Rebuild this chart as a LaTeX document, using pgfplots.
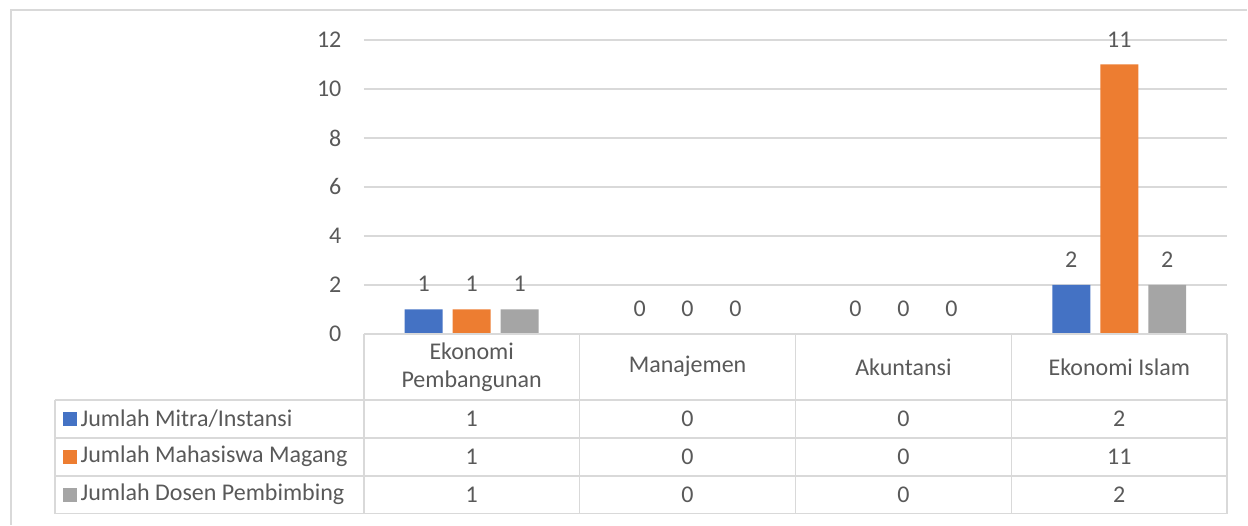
\documentclass[border=0pt]{standalone}
\usepackage{fontspec}
\setmainfont{Carlito}
\usepackage{pgfplots}
\pgfplotsset{compat=1.18}

\definecolor{cblue}{HTML}{4472C4}
\definecolor{corange}{HTML}{ED7D31}
\definecolor{cgray}{HTML}{A5A5A5}
\definecolor{txt}{HTML}{595959}
\definecolor{gridc}{HTML}{D9D9D9}

\begin{document}
\fontsize{12}{14.4}\selectfont
\begin{tikzpicture}
% canvas 1248 x 525 px at 0.5pt per px
\path (0,0) rectangle (624pt,-262.5pt);
\begin{axis}[
  at={(182pt,-167pt)}, anchor=south west,
  scale only axis, width=432pt, height=147pt,
  ybar=5pt, bar width=19pt,
  xmin=-0.5, xmax=3.5, ymin=0, ymax=12,
  xtick=\empty,
  ytick={0,2,...,12},
  ymajorgrids, grid style={gridc, line width=0.8pt},
  axis line style={draw=none},
  major tick length=0pt,
  tick label style={font=\fontsize{12}{14.4}\selectfont, text=txt},
  yticklabel style={xshift=-7pt},
  /pgf/number format/assume math mode=true,
  nodes near coords,
  nodes near coords style={font=\fontsize{12}{14.4}\selectfont, text=txt, anchor=south, inner sep=0pt, yshift=8.5pt},
  clip=false,
]
\addplot[fill=cblue, draw=none] coordinates {(0,1) (1,0) (2,0) (3,2)};
\addplot[fill=corange, draw=none] coordinates {(0,1) (1,0) (2,0) (3,11)};
\addplot[fill=cgray, draw=none] coordinates {(0,1) (1,0) (2,0) (3,2)};
\end{axis}
\begin{scope}[x=0.5pt, y=-0.5pt, line width=0.8pt]
  % chart frame (partly cropped)
  \draw[gridc] (11,525) -- (11,10) -- (1248,10);
  % data table
  \draw[gridc] (364,334) -- (1228,334);
  \foreach \yy in {400,438,476,514} \draw[gridc] (55,\yy) -- (1228,\yy);
  \draw[gridc] (55,400) -- (55,514);
  \foreach \xx in {364,580,796,1012,1228} \draw[gridc] (\xx,334) -- (\xx,514);
  % header
  \node[text=txt, align=center, font=\fontsize{12}{14}\selectfont] at (472,367) {Ekonomi\\Pembangunan};
  \node[text=txt] at (688,367) {Manajemen};
  \node[text=txt] at (904,367) {Akuntansi};
  \node[text=txt] at (1120,367) {Ekonomi Islam};
  % row labels
  \fill[cblue] (63,412) rectangle (77,426);
  \fill[corange] (63,450) rectangle (77,464);
  \fill[cgray] (63,488) rectangle (77,502);
  \node[text=txt, anchor=west, inner sep=0pt] at (80,419) {Jumlah Mitra/Instansi};
  \node[text=txt, anchor=west, inner sep=0pt] at (80,457) {Jumlah Mahasiswa Magang};
  \node[text=txt, anchor=west, inner sep=0pt] at (80,495) {Jumlah Dosen Pembimbing};
  % values
  \foreach \a/\b/\c/\d [count=\r] in {1/0/0/2, 1/0/0/11, 1/0/0/2} {
    \pgfmathsetmacro{\yy}{381+38*\r}
    \node[text=txt] at (472,\yy) {\a};
    \node[text=txt] at (688,\yy) {\b};
    \node[text=txt] at (904,\yy) {\c};
    \node[text=txt] at (1120,\yy) {\d};
  }
\end{scope}
\end{tikzpicture}
\end{document}
